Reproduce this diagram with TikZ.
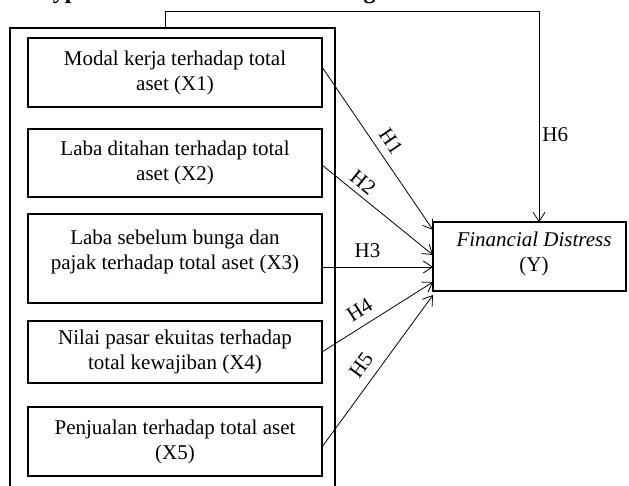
\documentclass[tikz,border=0pt]{standalone}
\usepackage{fontspec}
\setmainfont{Liberation Serif}
\usetikzlibrary{arrows.meta}
\begin{document}
\begin{tikzpicture}[x=1pt,y=-1pt,
  frame/.style={draw, line width=1.8pt, inner sep=0pt, outer sep=0pt},
  boxtext/.style={font=\fontsize{21}{25}\selectfont, align=center, inner sep=0pt},
  link/.style={line width=0.8pt, -{Straight Barb[length=9pt,width=12pt,line width=0.8pt]}},
  hl/.style={font=\fontsize{21}{24}\selectfont, inner sep=0pt},
  hls/.style={hl, sloped}
]
\useasboundingbox (0,0) rectangle (629,486);
\begin{scope}
\clip (0,0) rectangle (629,486);
\node[anchor=base west, font=\fontsize{24}{28}\selectfont\bfseries, inner sep=0pt] (title) at (34,-1.2) {Hypothesis Framework Thinking};
% outer frame
\node[frame, minimum width=325pt, minimum height=470pt] (outer) at (172.5,263) {};
% variable boxes
\node[frame, boxtext, minimum width=294pt, minimum height=69pt] (x1) at (175,72.5) {Modal kerja terhadap total\\aset (X1)};
\node[frame, boxtext, minimum width=294pt, minimum height=68pt] (x2) at (175,163) {Laba ditahan terhadap total\\aset (X2)};
\node[frame, minimum width=294pt, minimum height=89pt] (x3) at (175,258.5) {};
\node[boxtext] (t3) at (175,252) {Laba sebelum bunga dan\\pajak terhadap total aset (X3)};
\node[frame, boxtext, minimum width=294pt, minimum height=62pt] (x4) at (175,352) {Nilai pasar ekuitas terhadap\\total kewajiban (X4)};
\node[frame, boxtext, minimum width=294pt, minimum height=69pt] (x5) at (175,441.5) {Penjualan terhadap total aset\\(X5)};
% dependent variable
\node[frame, minimum width=193pt, minimum height=69pt] (Y) at (529.5,256.5) {};
\node[boxtext] (yt) at (534,254) {\textit{Financial Distress}\\(Y)};
% hypotheses
\draw[link] ([yshift=5.5pt]x1.east) -- node[hls, pos=0.51, above=7.8pt] {H1} ([yshift=26.5pt]Y.west);
\draw[link] ([yshift=-2pt]x2.east) -- node[hls, pos=0.30, above=5pt] {H2} ([yshift=1.5pt]Y.west);
\draw[link] ([yshift=-8.5pt]x3.east) -- node[hls, pos=0.41, above=8.4pt] {H3} ([yshift=-10.5pt]Y.west);
\draw[link] (x4.east) -- node[hls, pos=0.415, above=8.6pt] {H4} ([yshift=-25.5pt]Y.west);
\draw[link] ([yshift=-5.5pt]x5.east) -- node[hls, pos=0.473, above=9.2pt] {H5} ([yshift=-38.5pt]Y.west);
\draw[link] ([xshift=-7.5pt]outer.north) -- ++(0,-17) -| node[hl, pos=0.794, right=3pt] {H6} ([xshift=9.5pt]Y.north);
\end{scope}
\end{tikzpicture}
\end{document}
